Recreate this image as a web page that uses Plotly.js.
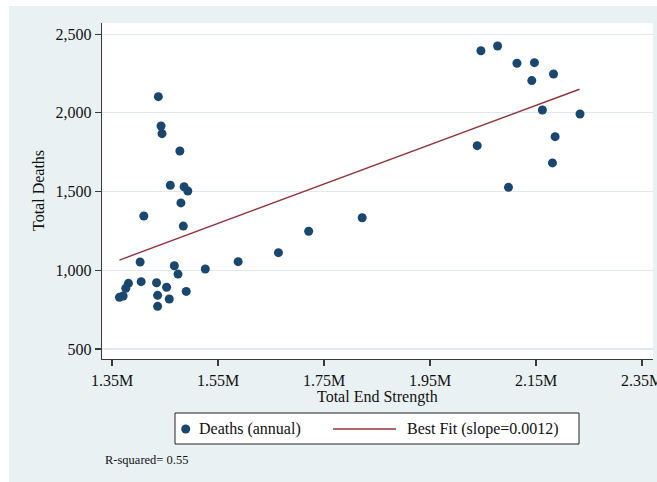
<!DOCTYPE html>
<html>
<head>
<meta charset="utf-8">
<script src="https://cdn.plot.ly/plotly-3.0.1.min.js"></script>
<style>html,body{margin:0;padding:0;background:#fff;}#chart{width:657px;height:482px;}</style>
</head>
<body>
<div id="chart"></div>
<script>
// Total end strength (people) and total deaths (annual)
const endStrength = [1437400, 1442500, 1444300, 1478000, 1460000, 1486000, 1493000, 1480000, 1410000, 1484500,
  1721000, 2046000, 2077500, 2114000, 2147000, 2142000, 2183000, 2162000, 2233000, 2186000,
  2039000, 2181000, 2098000, 1822000, 1664000, 1588000, 1526000, 1403000, 1467600, 1474500,
  1405000, 1381000, 1376000, 1434000, 1453000, 1490000, 1436000, 1458000, 1436000, 1364000, 1371000];
const deaths = [2103, 1917, 1868, 1758, 1540, 1531, 1504, 1428, 1345, 1281,
  1248, 2395, 2425, 2315, 2319, 2205, 2247, 2018, 1993, 1849,
  1792, 1682, 1527, 1334, 1112, 1055, 1008, 1053, 1029, 976,
  928, 917, 886, 921, 892, 866, 841, 818, 771, 828, 837];
// Best fit line endpoints
const fitX = [1364000, 2232000];
const fitY = [1065, 2150];
const xTickVals = [1350000, 1550000, 1750000, 1950000, 2150000, 2350000];
const xTickText = ['1.35M', '1.55M', '1.75M', '1.95M', '2.15M', '2.35M'];
const yTickVals = [500, 1000, 1500, 2000, 2500];
const seriesNames = ['Deaths (annual)', 'Best Fit (slope=0.0012)'];
const xTitle = 'Total End Strength';
const yTitle = 'Total Deaths';
const note = 'R-squared= 0.55';

const navy = '#1a476f', maroon = '#90353b', bg = '#e9f1f3', grid = '#e1e9f0', axisCol = '#3a3a3a';
const serif = 'Liberation Serif, Times New Roman, serif';

// pixel -> paper helpers (plot area: x 102..653, y 23..359)
const L = 102, R = 653, T = 23, B = 359;
const px = v => (v - L) / (R - L);
const py = v => (B - v) / (B - T);

const traces = [
  {x: endStrength, y: deaths, type: 'scatter', mode: 'markers', name: seriesNames[0],
   marker: {color: navy, size: 9, line: {width: 0}}, showlegend: false, hoverinfo: 'x+y'},
  {x: fitX, y: fitY, type: 'scatter', mode: 'lines', name: seriesNames[1],
   line: {color: maroon, width: 1.4}, showlegend: false}
];

const txt = {family: serif, size: 16, color: '#111'};

const layout = {
  width: 657, height: 482,
  margin: {l: L, r: 657 - R, t: T, b: 482 - B, pad: 0},
  paper_bgcolor: bg, plot_bgcolor: '#ffffff',
  font: txt,
  xaxis: {
    range: [1331100, 2370700], tickmode: 'array', tickvals: xTickVals, ticktext: xTickText,
    ticklabeloverflow: 'allow',
    showgrid: false, zeroline: false, showline: true, linecolor: axisCol, linewidth: 1.3,
    ticks: 'outside', ticklen: 6, tickcolor: axisCol, tickwidth: 1.2,
    tickfont: txt
  },
  yaxis: {
    range: [436.5, 2571], tickmode: 'array', tickvals: yTickVals, tickformat: ',',
    showgrid: true, gridcolor: grid, gridwidth: 1.2, zeroline: false,
    showline: true, linecolor: axisCol, linewidth: 1.3,
    ticks: 'outside', ticklen: 6, tickcolor: axisCol, tickwidth: 1.2,
    tickfont: txt
  },
  showlegend: false,
  shapes: [
    // white strips outside the graph region
    {type: 'rect', xref: 'paper', yref: 'paper', x0: -0.3, x1: px(9), y0: -0.5, y1: 1.3, fillcolor: '#ffffff', line: {width: 0}, layer: 'below'},
    {type: 'rect', xref: 'paper', yref: 'paper', x0: -0.3, x1: 1.3, y0: py(6), y1: 1.3, fillcolor: '#ffffff', line: {width: 0}, layer: 'below'},
    // legend box
    {type: 'rect', xref: 'paper', yref: 'paper', x0: px(175), x1: px(579), y0: py(444), y1: py(413), fillcolor: '#ffffff', line: {color: '#222', width: 1}},
    // legend marker
    {type: 'circle', xref: 'paper', yref: 'paper', xsizemode: 'pixel', ysizemode: 'pixel',
     xanchor: px(185.7), yanchor: py(429), x0: -4.5, x1: 4.5, y0: -4.5, y1: 4.5, fillcolor: navy, line: {width: 0}},
    // legend line
    {type: 'line', xref: 'paper', yref: 'paper', x0: px(333), x1: px(396), y0: py(429), y1: py(429), line: {color: maroon, width: 1.4}}
  ],
  annotations: [
    {xref: 'paper', yref: 'paper', x: px(38), y: py(191), xanchor: 'center', yanchor: 'middle', showarrow: false,
     textangle: -90, text: yTitle, font: txt},
    {xref: 'paper', yref: 'paper', x: px(377.5), y: py(397), xanchor: 'center', yanchor: 'middle', showarrow: false,
     text: xTitle, font: txt},
    {xref: 'paper', yref: 'paper', x: px(199), y: py(429), xanchor: 'left', yanchor: 'middle', showarrow: false,
     text: seriesNames[0], font: txt, xshift: -2},
    {xref: 'paper', yref: 'paper', x: px(406.7), y: py(429), xanchor: 'left', yanchor: 'middle', showarrow: false,
     text: seriesNames[1], font: txt, xshift: -2},
    {xref: 'paper', yref: 'paper', x: px(105), y: py(460), xanchor: 'left', yanchor: 'middle', showarrow: false,
     text: note, font: {family: serif, size: 12.5, color: '#111'}, xshift: -2}
  ]
};

Plotly.newPlot('chart', traces, layout, {displayModeBar: false, staticPlot: true});
</script>
</body>
</html>
